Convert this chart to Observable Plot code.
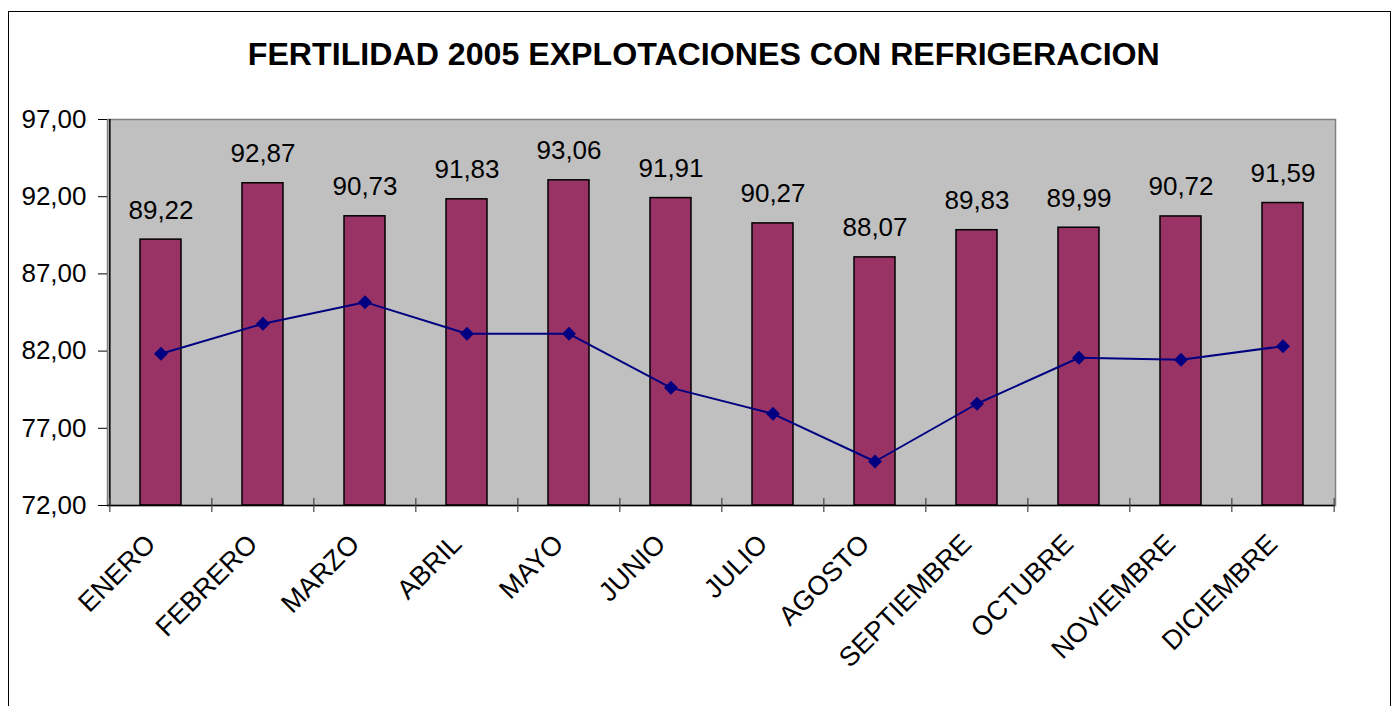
<!DOCTYPE html>
<html>
<head>
<meta charset="utf-8">
<script src="https://cdn.jsdelivr.net/npm/d3@7"></script>
<script src="https://cdn.jsdelivr.net/npm/@observablehq/plot@0.6"></script>
<style>
  html, body { margin: 0; padding: 0; background: #fff; overflow: hidden; }
  #wrap { position: relative; width: 1398px; height: 706px; }
  #border { position: absolute; left: 8px; top: 11px; width: 1383px; height: 720px; border: 1.5px solid #000; box-sizing: border-box; }
  #title { position: absolute; left: 0; top: 39px; width: 1408px; text-align: center; font: bold 31px Arial, "Liberation Sans", sans-serif; line-height: 31px; color: #000; white-space: nowrap; }
  #title span { display: inline-block; transform-origin: center; }
  #chart { position: absolute; left: 0; top: 0; }
</style>
</head>
<body>
<div id="wrap">
  <div id="border"></div>
  <div id="chart"></div>
  <div id="title"><span>FERTILIDAD 2005 EXPLOTACIONES CON REFRIGERACION</span></div>
</div>
<script>
const months = ["ENERO", "FEBRERO", "MARZO", "ABRIL", "MAYO", "JUNIO", "JULIO", "AGOSTO", "SEPTIEMBRE", "OCTUBRE", "NOVIEMBRE", "DICIEMBRE"];
const fertilidad = [89.22, 92.87, 90.73, 91.83, 93.06, 91.91, 90.27, 88.07, 89.83, 89.99, 90.72, 91.59];
const serie2 = [81.83, 83.77, 85.17, 83.12, 83.12, 79.62, 77.94, 74.85, 78.59, 81.57, 81.44, 82.32];
const yTicks = [72, 77, 82, 87, 92, 97];

const data = months.map((m, i) => ({month: m, value: fertilidad[i], line: serie2[i]}));
const fmt = d => d.toFixed(2).replace(".", ",");
const yMin = yTicks[0], yMax = yTicks[yTicks.length - 1];

const W = 1398, H = 706, mL = 107, mR = 63, mT = 119, mB = 201;
const step = (W - mL - mR) / months.length;
const plotH = H - mT - mB;
const font = "Arial, 'Liberation Sans', sans-serif";

const chart = Plot.plot({
  width: W, height: H,
  marginLeft: mL, marginRight: mR, marginTop: mT, marginBottom: mB,
  style: {fontFamily: font, fontSize: "26px", background: "transparent", color: "#000", overflow: "visible"},
  x: {domain: months, paddingInner: 0.6, paddingOuter: 0.3, label: null},
  y: {domain: [yMin, yMax], label: null},
  marks: [
    Plot.frame({fill: "#c0c0c0", stroke: "#808080", strokeWidth: 1.5}),
    Plot.barY(data, {x: "month", y1: () => yMin, y2: "value", fill: "#993366", stroke: "#000", strokeWidth: 1.5}),
    Plot.line(data, {x: "month", y: "line", stroke: "#000080", strokeWidth: 2}),
    Plot.dot(data, {x: "month", y: "line", symbol: "diamond2", r: 6.3, fill: "#000080", stroke: "none"}),
    Plot.text(data, {x: "month", y: "value", text: d => fmt(d.value), lineAnchor: "bottom", dy: -21, fontSize: 26, fill: "#000"}),
    Plot.ruleY([yMin], {stroke: "#000", strokeWidth: 1.5}),
    Plot.ruleX([months[0]], {dx: -step / 2, stroke: "#000", strokeWidth: 1.5}),
    Plot.ruleX(months, {dx: -step / 2, insetTop: plotH - 7, insetBottom: -7, stroke: "#444", strokeWidth: 1.2}),
    Plot.ruleX([months[months.length - 1]], {dx: step / 2, insetTop: plotH - 7, insetBottom: -7, stroke: "#444", strokeWidth: 1.2}),
    Plot.axisY({ticks: yTicks, tickFormat: fmt, tickSize: 9, tickPadding: 12, fontSize: 26, label: null, stroke: "#000"}),
    Plot.axisX({tickSize: 0, tickRotate: -45, tickPadding: 24, dx: -10, dy: 10, fontSize: 27, label: null})
  ]
});
document.getElementById("chart").appendChild(chart);

// fit title width to the reference
const span = document.querySelector("#title span");
const ctx = document.createElement("canvas").getContext("2d");
ctx.font = "bold 31px Arial, 'Liberation Sans', sans-serif";
const w = ctx.measureText(span.textContent).width;
span.style.transform = `scaleX(${912 / w})`;
</script>
</body>
</html>
